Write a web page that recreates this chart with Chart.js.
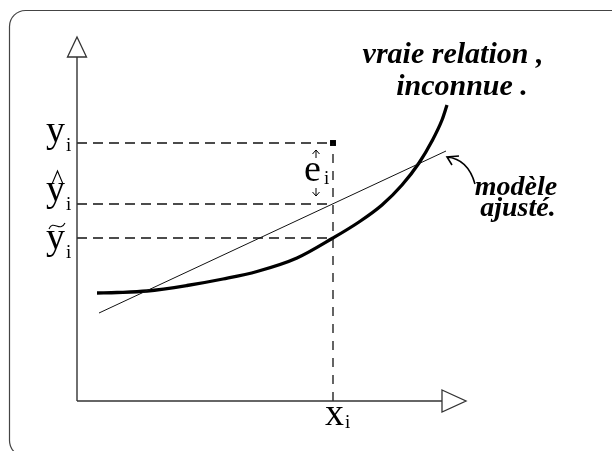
<!DOCTYPE html>
<html>
<head>
<meta charset="utf-8">
<script src="https://cdn.jsdelivr.net/npm/chart.js@4/dist/chart.umd.min.js"></script>
<style>
  body { margin: 0; background: #fff; }
  #wrap { width: 612px; height: 451px; position: relative; }
</style>
</head>
<body>
<div id="wrap"><canvas id="schema"></canvas></div>
<script>
'use strict';
// vraie relation (courbe épaisse)
const curveX = [2.0, 4.0, 7.0, 11.0, 14.6, 18.0, 22.0, 25.6, 28.2, 30.5, 32.5, 34.2, 35.5, 36.5, 37.0];
const curveY = [10.8, 10.85, 11.0, 11.55, 12.2, 12.95, 14.3, 16.3, 17.9, 19.6, 21.6, 23.8, 26.0, 28.1, 29.6];
// modèle ajusté (droite)
const fitX = [2.2, 36.9];
const fitY = [8.8, 25.0];
// observation i
const xObs = 25.6;
const yObs = 25.8;
const yHat = 19.7;
const yTilde = 16.3;
// bornes des axes (base des flèches) et du repère
const axisEndX = 36.5;
const axisEndY = 34.4;
const xMax = 38.9;
const yMax = 36.4;

const pts = (xs, ys) => xs.map((x, i) => ({ x: x, y: ys[i] }));
const dashed = (data, dash) => ({
  data: data, showLine: true, borderColor: '#111', borderWidth: 1.3,
  borderDash: dash, pointRadius: 0, clip: false
});

const datasets = [
  // axes
  { data: [{ x: 0, y: 0 }, { x: axisEndX, y: 0 }], showLine: true, borderColor: '#333', borderWidth: 1.4, pointRadius: 0, clip: false },
  { data: [{ x: 0, y: 0 }, { x: 0, y: axisEndY }], showLine: true, borderColor: '#333', borderWidth: 1.4, pointRadius: 0, clip: false },
  // pointillés
  dashed([{ x: 0, y: yObs }, { x: xObs, y: yObs }], [10, 6]),
  dashed([{ x: 0, y: yHat }, { x: xObs, y: yHat }], [10, 6]),
  dashed([{ x: 0, y: yTilde }, { x: xObs, y: yTilde }], [10, 6]),
  dashed([{ x: xObs, y: 0 }, { x: xObs, y: yObs }], [9, 8]),
  // droite ajustée
  { data: pts(fitX, fitY), showLine: true, borderColor: '#111', borderWidth: 1, pointRadius: 0, clip: false },
  // vraie relation
  { data: pts(curveX, curveY), showLine: true, borderColor: '#000', borderWidth: 3.3,
    cubicInterpolationMode: 'monotone', pointRadius: 0, clip: false },
  // point observé
  { data: [{ x: xObs, y: yObs }], pointStyle: 'rect', pointRadius: 4.2, backgroundColor: '#000', borderColor: '#000', borderWidth: 0 }
];

// textes, flèches et cadre
const decor = {
  id: 'decor',
  beforeDraw(chart) {
    const ctx = chart.ctx;
    ctx.save();
    ctx.strokeStyle = '#444';
    ctx.lineWidth = 1.2;
    ctx.beginPath();
    ctx.roundRect(9.5, 10.5, 640, 446, 16);
    ctx.stroke();
    ctx.restore();
  },
  afterDraw(chart) {
    const ctx = chart.ctx;
    const xs = chart.scales.x, ys = chart.scales.y;
    const X = v => xs.getPixelForValue(v);
    const Y = v => ys.getPixelForValue(v);
    const x0 = X(0), y0 = Y(0);
    ctx.save();

    // pointes des axes (triangles creux)
    ctx.strokeStyle = '#333';
    ctx.fillStyle = '#fff';
    ctx.lineWidth = 1.3;
    const ax = X(axisEndX), tipX = X(xMax);
    ctx.beginPath();
    ctx.moveTo(ax, y0 - 11); ctx.lineTo(tipX, y0); ctx.lineTo(ax, y0 + 11); ctx.closePath();
    ctx.fill(); ctx.stroke();
    const ay = Y(axisEndY), tipY = Y(yMax);
    ctx.beginPath();
    ctx.moveTo(x0 - 9.5, ay); ctx.lineTo(x0, tipY); ctx.lineTo(x0 + 9.5, ay); ctx.closePath();
    ctx.fill(); ctx.stroke();

    // libellés des ordonnées et de l'abscisse
    ctx.fillStyle = '#000';
    ctx.textAlign = 'left';
    ctx.textBaseline = 'alphabetic';
    const big = "38px 'Liberation Serif'";
    const small = "19px 'Liberation Serif'";
    const label = (ch, x, base, drop) => {
      ctx.font = big;
      ctx.fillText(ch, x, base);
      const w = ctx.measureText(ch).width;
      ctx.font = small;
      ctx.fillText('i', x + w + 1, base + drop);
    };
    label('y', x0 - 31, Y(yObs) - 1, 9);
    label('y', x0 - 31, Y(yHat) - 3, 9);
    label('y', x0 - 31, Y(yTilde) + 11, 9);
    label('x', X(xObs) - 8, y0 + 24, 3);

    // chapeau et tilde
    ctx.strokeStyle = '#000';
    ctx.lineWidth = 1.1;
    const hy = Y(yHat) - 20;
    ctx.beginPath();
    ctx.moveTo(x0 - 25, hy); ctx.lineTo(x0 - 19.5, hy - 13); ctx.lineTo(x0 - 14, hy);
    ctx.stroke();
    const ty = Y(yTilde) - 12;
    ctx.beginPath();
    ctx.moveTo(x0 - 28, ty + 3);
    ctx.bezierCurveTo(x0 - 24, ty - 7, x0 - 17, ty + 7, x0 - 12, ty - 3);
    ctx.stroke();

    // résidu e_i avec ses petites flèches
    const px = X(xObs);
    ctx.font = big;
    ctx.fillText('e', px - 29, Y(yObs) + 38);
    ctx.font = small;
    ctx.fillText('i', px - 9, Y(yObs) + 41);
    const arrowX = px - 17;
    ctx.lineWidth = 1;
    ctx.beginPath();
    let a = Y(yObs) + 7;
    ctx.moveTo(arrowX, a + 8); ctx.lineTo(arrowX, a);
    ctx.moveTo(arrowX - 3.5, a + 4); ctx.lineTo(arrowX, a); ctx.lineTo(arrowX + 3.5, a + 4);
    a = Y(yHat) - 8;
    ctx.moveTo(arrowX, a - 8); ctx.lineTo(arrowX, a);
    ctx.moveTo(arrowX - 3.5, a - 4); ctx.lineTo(arrowX, a); ctx.lineTo(arrowX + 3.5, a - 4);
    ctx.stroke();

    // textes en gras italique
    ctx.textAlign = 'center';
    ctx.font = "bold italic 30px 'Liberation Serif'";
    ctx.fillText('vraie relation ,', 453, 63);
    ctx.fillText('inconnue .', 462, 95);
    ctx.font = "bold italic 28px 'Liberation Serif'";
    ctx.fillText('modèle', 516, 195);
    ctx.fillText('ajusté.', 518, 216);

    // flèche courbe vers la droite ajustée
    const ex = X(fitX[1]) + 1, ey = Y(fitY[1]) + 6;
    ctx.lineWidth = 1.6;
    ctx.beginPath();
    ctx.moveTo(ex + 28, ey + 27);
    ctx.quadraticCurveTo(ex + 21, ey + 2, ex, ey);
    ctx.moveTo(ex + 12, ey - 1); ctx.lineTo(ex, ey); ctx.lineTo(ex + 5, ey + 8);
    ctx.stroke();

    ctx.restore();
  }
};

new Chart(document.getElementById('schema'), {
  type: 'scatter',
  data: { datasets: datasets },
  options: {
    responsive: true,
    maintainAspectRatio: false,
    animation: false,
    layout: { padding: { left: 77, right: 146, top: 37, bottom: 50 } },
    scales: {
      x: { type: 'linear', min: 0, max: xMax, display: false },
      y: { type: 'linear', min: 0, max: yMax, display: false }
    },
    plugins: { legend: { display: false }, tooltip: { enabled: false } }
  },
  plugins: [decor]
});
</script>
</body>
</html>
